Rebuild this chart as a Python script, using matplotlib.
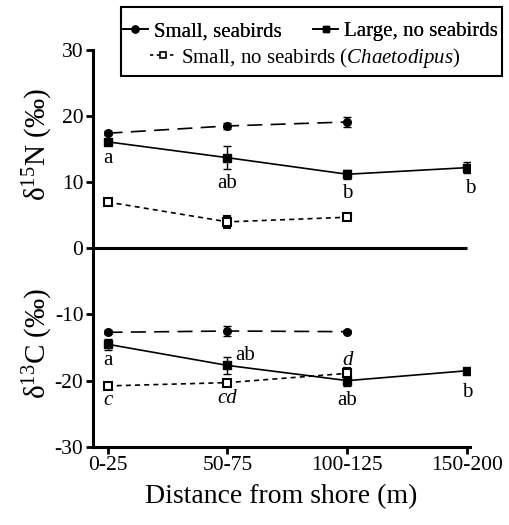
import numpy as np
import matplotlib
matplotlib.use('Agg')
import matplotlib.pyplot as plt
from matplotlib.lines import Line2D
from matplotlib.patches import Rectangle

plt.rcParams['font.family'] = ['Liberation Serif', 'DejaVu Serif']
plt.rcParams['mathtext.fontset'] = 'custom'
plt.rcParams['mathtext.rm'] = 'Liberation Serif'
plt.rcParams['mathtext.it'] = 'Liberation Serif:italic'
plt.rcParams['axes.unicode_minus'] = False

# distance classes
sites = ['0-25', '50-75', '100-125', '150-200']

# delta 15N
n_small_sea = [17.4, 18.5, 19.1]
n_small_sea_err = [0.3, 0.4, 0.8]
n_large = [16.1, 13.7, 11.2, 12.2]
n_large_err = [0.4, 1.7, 0.7, 0.8]
n_small_nosea = [7.0, 4.0, 4.7]
n_small_nosea_err = [0.4, 0.9, 0.3]

# delta 13C
c_small_sea = [-12.7, -12.5, -12.6]
c_small_sea_err = [0.3, 0.8, 0.2]
c_large = [-14.5, -17.7, -20.0, -18.5]
c_large_err = [0.8, 1.3, 0.8, 0.4]
c_small_nosea = [-20.8, -20.3, -18.9]
c_small_nosea_err = [0.4, 0.3, 0.8]

# significance letters: (site index, y, text, italic)
letters = [
    (0, 13.6, 'a', False), (1, 9.8, 'ab', False), (2, 8.3, 'b', False), (3.02, 9.1, 'b', False),
    (0, -17.0, 'a', False), (1.15, -16.2, 'ab', False), (2, -17.0, 'd', True),
    (0, -23.0, 'c', True), (1, -22.7, 'cd', True), (2, -23.0, 'ab', False), (3, -21.8, 'b', False),
]

fig = plt.figure(figsize=(5.09, 5.25), dpi=100)
ax = fig.add_axes([0.183, 0.149, 0.74, 0.756])

x = np.arange(len(sites))
lw = 1.2
ekw = dict(capsize=3, elinewidth=1.0, capthick=1.0, ecolor='black')

for sea, sea_e, lg, lg_e, ns, ns_e in [
        (n_small_sea, n_small_sea_err, n_large, n_large_err, n_small_nosea, n_small_nosea_err),
        (c_small_sea, c_small_sea_err, c_large, c_large_err, c_small_nosea, c_small_nosea_err)]:
    ax.errorbar(x[:3], sea, yerr=sea_e, color='black', lw=lw, dashes=(9, 5),
                marker='o', ms=5.5, **ekw)
    ax.errorbar(x, lg, yerr=lg_e, color='black', lw=lw, ls='-',
                marker='s', ms=6, **ekw)
    ax.errorbar(x[:3], ns, yerr=ns_e, color='black', lw=lw, dashes=(3, 2.5),
                marker='s', ms=6, mfc='white', mew=1.5, **ekw)

for xi, yi, t, it in letters:
    ax.text(xi, yi, t, ha='center', va='center', fontsize=15,
            style='italic' if it else 'normal')

ax.set_xlim(-0.12, 3.02)
ax.set_ylim(-30, 30)
ax.hlines(0, -0.12, 3.0, color='black', lw=2.2)
ax.set_xticks(x)
ax.set_xticklabels(sites)
ax.set_yticks(np.arange(-30, 31, 10))
ax.tick_params(axis='both', labelsize=15.5, width=2, length=5, direction='out', pad=2)
for s in ['top', 'right']:
    ax.spines[s].set_visible(False)
for s in ['left', 'bottom']:
    ax.spines[s].set_linewidth(2.2)

ax.set_xlabel('Distance from shore (m)', fontsize=20, labelpad=6)
fig.text(0.075, 0.725, r'δ$^{15}$N (‰)', rotation=90, ha='center', va='center', fontsize=21)
fig.text(0.075, 0.345, r'δ$^{13}$C (‰)', rotation=90, ha='center', va='center', fontsize=21)

h1 = Line2D([], [], color='black', lw=lw, marker='o', ms=5)
h2 = Line2D([], [], color='black', lw=lw, marker='s', ms=5)
h3 = Line2D([], [], color='black', lw=lw, dashes=(2, 2), marker='s', ms=5, mfc='white', mew=1.2)
leg1 = fig.legend([h1, h2], ['Small, seabirds', 'Large, no seabirds'], ncol=2,
                  loc='center', bbox_to_anchor=(0.61, 0.94), frameon=False, fontsize=15,
                  handlelength=1.2, handletextpad=0.3, columnspacing=1.5, borderpad=0)
leg2 = fig.legend([h3], [r'Small, no seabirds ($\it{Chaetodipus}$)'],
                  loc='center', bbox_to_anchor=(0.6, 0.89), frameon=False, fontsize=15,
                  handlelength=1.2, handletextpad=0.3, borderpad=0)
fig.add_artist(leg1)
fig.patches.append(Rectangle((0.238, 0.856), 0.748, 0.13, transform=fig.transFigure,
                             fill=False, edgecolor='black', lw=1.5))

fig.savefig('out.png', dpi=100)
